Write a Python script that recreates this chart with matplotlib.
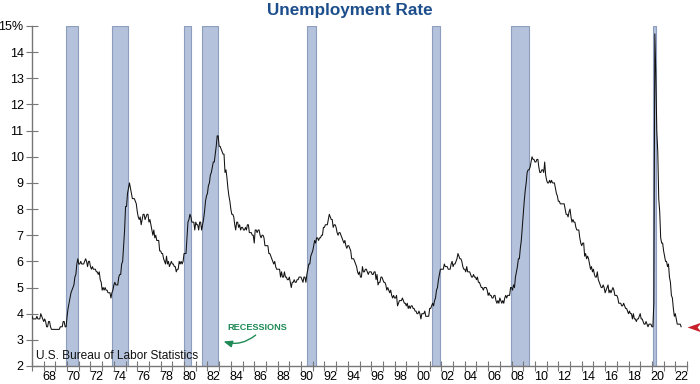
import numpy as np
import matplotlib
matplotlib.use('Agg')
import matplotlib.pyplot as plt
from matplotlib.path import Path

plt.rcParams['font.family'] = ['Liberation Sans', 'DejaVu Sans']

# monthly unemployment rate, %, Jan 1967 - Jul 2022
rate = {
    1967: [3.9, 3.8, 3.8, 3.8, 3.8, 3.9, 3.8, 3.8, 3.8, 4.0, 3.9, 3.8],
    1968: [3.7, 3.8, 3.7, 3.5, 3.5, 3.7, 3.7, 3.5, 3.4, 3.4, 3.4, 3.4],
    1969: [3.4, 3.4, 3.4, 3.4, 3.4, 3.5, 3.5, 3.5, 3.7, 3.7, 3.5, 3.5],
    1970: [3.9, 4.2, 4.4, 4.6, 4.8, 4.9, 5.0, 5.1, 5.4, 5.5, 5.9, 6.1],
    1971: [5.9, 5.9, 6.0, 5.9, 5.9, 5.9, 6.0, 6.1, 6.0, 5.8, 6.0, 6.0],
    1972: [5.8, 5.7, 5.8, 5.7, 5.7, 5.7, 5.6, 5.6, 5.5, 5.6, 5.3, 5.2],
    1973: [4.9, 5.0, 4.9, 5.0, 4.9, 4.9, 4.8, 4.8, 4.8, 4.6, 4.8, 4.9],
    1974: [5.1, 5.2, 5.1, 5.1, 5.1, 5.4, 5.5, 5.5, 5.9, 6.0, 6.6, 7.2],
    1975: [8.1, 8.1, 8.6, 8.8, 9.0, 8.8, 8.6, 8.4, 8.4, 8.4, 8.3, 8.2],
    1976: [7.9, 7.7, 7.6, 7.7, 7.4, 7.6, 7.8, 7.8, 7.6, 7.7, 7.8, 7.8],
    1977: [7.5, 7.6, 7.4, 7.2, 7.0, 7.2, 6.9, 7.0, 6.8, 6.8, 6.8, 6.4],
    1978: [6.4, 6.3, 6.3, 6.1, 6.0, 5.9, 6.2, 5.9, 6.0, 5.8, 5.9, 6.0],
    1979: [5.9, 5.9, 5.8, 5.8, 5.6, 5.7, 5.7, 6.0, 5.9, 6.0, 5.9, 6.0],
    1980: [6.3, 6.3, 6.3, 6.9, 7.5, 7.6, 7.8, 7.7, 7.5, 7.5, 7.5, 7.2],
    1981: [7.5, 7.4, 7.4, 7.2, 7.5, 7.5, 7.2, 7.4, 7.6, 7.9, 8.3, 8.5],
    1982: [8.6, 8.9, 9.0, 9.3, 9.4, 9.6, 9.8, 9.8, 10.1, 10.4, 10.8, 10.8],
    1983: [10.4, 10.4, 10.3, 10.2, 10.1, 10.1, 9.4, 9.5, 9.2, 8.8, 8.5, 8.3],
    1984: [8.0, 7.8, 7.8, 7.7, 7.4, 7.2, 7.5, 7.5, 7.3, 7.4, 7.2, 7.3],
    1985: [7.3, 7.2, 7.2, 7.3, 7.2, 7.4, 7.4, 7.1, 7.1, 7.1, 7.0, 7.0],
    1986: [6.7, 7.2, 7.2, 7.1, 7.2, 7.2, 7.0, 6.9, 7.0, 7.0, 6.9, 6.6],
    1987: [6.6, 6.6, 6.6, 6.3, 6.3, 6.2, 6.1, 6.0, 5.9, 6.0, 5.8, 5.7],
    1988: [5.7, 5.7, 5.7, 5.4, 5.6, 5.4, 5.4, 5.6, 5.4, 5.4, 5.3, 5.3],
    1989: [5.4, 5.2, 5.0, 5.2, 5.2, 5.3, 5.2, 5.2, 5.3, 5.3, 5.4, 5.4],
    1990: [5.4, 5.3, 5.2, 5.4, 5.4, 5.2, 5.5, 5.7, 5.9, 5.9, 6.2, 6.3],
    1991: [6.4, 6.6, 6.8, 6.7, 6.9, 6.9, 6.8, 6.9, 6.9, 7.0, 7.0, 7.3],
    1992: [7.3, 7.4, 7.4, 7.4, 7.6, 7.8, 7.7, 7.6, 7.6, 7.3, 7.4, 7.4],
    1993: [7.3, 7.1, 7.0, 7.1, 7.1, 7.0, 6.9, 6.8, 6.7, 6.8, 6.6, 6.5],
    1994: [6.6, 6.6, 6.5, 6.4, 6.1, 6.1, 6.1, 6.0, 5.9, 5.8, 5.6, 5.5],
    1995: [5.6, 5.4, 5.4, 5.8, 5.6, 5.6, 5.7, 5.7, 5.6, 5.5, 5.6, 5.6],
    1996: [5.6, 5.5, 5.5, 5.6, 5.6, 5.3, 5.5, 5.1, 5.2, 5.2, 5.4, 5.4],
    1997: [5.3, 5.2, 5.2, 5.1, 4.9, 5.0, 4.9, 4.8, 4.9, 4.7, 4.6, 4.7],
    1998: [4.6, 4.6, 4.7, 4.3, 4.4, 4.5, 4.5, 4.5, 4.6, 4.5, 4.4, 4.4],
    1999: [4.3, 4.4, 4.2, 4.3, 4.2, 4.3, 4.3, 4.2, 4.2, 4.1, 4.1, 4.0],
    2000: [4.0, 4.1, 4.0, 3.8, 4.0, 4.0, 4.0, 4.1, 3.9, 3.9, 3.9, 3.9],
    2001: [4.2, 4.2, 4.3, 4.4, 4.3, 4.5, 4.6, 4.9, 5.0, 5.3, 5.5, 5.7],
    2002: [5.7, 5.7, 5.7, 5.9, 5.8, 5.8, 5.8, 5.7, 5.7, 5.7, 5.9, 6.0],
    2003: [5.8, 5.9, 5.9, 6.0, 6.1, 6.3, 6.2, 6.1, 6.1, 6.0, 5.8, 5.7],
    2004: [5.7, 5.6, 5.8, 5.6, 5.6, 5.6, 5.5, 5.4, 5.4, 5.5, 5.4, 5.4],
    2005: [5.3, 5.4, 5.2, 5.2, 5.1, 5.0, 5.0, 4.9, 5.0, 5.0, 5.0, 4.9],
    2006: [4.7, 4.8, 4.7, 4.7, 4.6, 4.6, 4.7, 4.7, 4.5, 4.4, 4.5, 4.4],
    2007: [4.6, 4.5, 4.4, 4.5, 4.4, 4.6, 4.7, 4.6, 4.7, 4.7, 4.7, 5.0],
    2008: [5.0, 4.9, 5.1, 5.0, 5.4, 5.6, 5.8, 6.1, 6.1, 6.5, 6.8, 7.3],
    2009: [7.8, 8.3, 8.7, 9.0, 9.4, 9.5, 9.5, 9.6, 9.8, 10.0, 9.9, 9.9],
    2010: [9.8, 9.8, 9.9, 9.9, 9.6, 9.4, 9.4, 9.5, 9.5, 9.4, 9.8, 9.3],
    2011: [9.1, 9.0, 9.0, 9.1, 9.0, 9.1, 9.0, 9.0, 9.0, 8.8, 8.6, 8.5],
    2012: [8.3, 8.3, 8.2, 8.2, 8.2, 8.2, 8.2, 8.0, 7.8, 7.8, 7.7, 7.9],
    2013: [8.0, 7.7, 7.5, 7.6, 7.5, 7.5, 7.3, 7.2, 7.2, 7.2, 6.9, 6.7],
    2014: [6.6, 6.7, 6.7, 6.2, 6.3, 6.1, 6.2, 6.1, 5.9, 5.7, 5.8, 5.6],
    2015: [5.7, 5.5, 5.4, 5.4, 5.6, 5.3, 5.2, 5.1, 5.0, 5.0, 5.1, 5.0],
    2016: [4.8, 4.9, 5.0, 5.1, 4.8, 4.9, 4.8, 4.9, 5.0, 4.9, 4.7, 4.7],
    2017: [4.7, 4.6, 4.4, 4.4, 4.4, 4.3, 4.3, 4.4, 4.3, 4.2, 4.2, 4.1],
    2018: [4.0, 4.1, 4.0, 4.0, 3.8, 4.0, 3.8, 3.8, 3.7, 3.8, 3.8, 3.9],
    2019: [4.0, 3.8, 3.8, 3.7, 3.6, 3.6, 3.7, 3.6, 3.5, 3.6, 3.6, 3.6],
    2020: [3.5, 3.5, 4.4, 14.7, 13.2, 11.0, 10.2, 8.4, 7.9, 6.9, 6.7, 6.7],
    2021: [6.4, 6.2, 6.0, 6.0, 5.8, 5.9, 5.4, 5.2, 4.7, 4.6, 4.2, 3.9],
    2022: [4.0, 3.8, 3.6, 3.6, 3.6, 3.6, 3.5],
}

# NBER recessions (start, end) as fractional years
rec_start = [1969 + 11/12, 1973 + 10/12, 1980.0, 1981 + 6/12, 1990 + 6/12, 2001 + 2/12, 2007 + 11/12, 2020 + 1/12]
rec_end = [1970 + 11/12, 1975 + 3/12, 1980 + 7/12, 1982 + 11/12, 1991 + 3/12, 2001 + 11/12, 2009 + 6/12, 2020 + 4/12]

tick_labels = ['68', '70', '72', '74', '76', '78', '80', '82', '84', '86', '88', '90',
               '92', '94', '96', '98', '00', '02', '04', '06', '08', '10', '12', '14',
               '16', '18', '20', '22']
y_labels = ['2', '3', '4', '5', '6', '7', '8', '9', '10', '11', '12', '13', '14', '15%']

t = []
u = []
for yr, vals in rate.items():
    for m, v in enumerate(vals):
        t.append(yr + m / 12)
        u.append(v)

fig = plt.figure(figsize=(7, 3.84), dpi=100)
ax = fig.add_axes([32/700, 18/384, 655/700, 340/384])

for s, e in zip(rec_start, rec_end):
    ax.axvspan(s, e, facecolor='#b4c2dc', edgecolor='#8d9dbd', lw=0.8, zorder=1)

ax.plot(t, u, color='#111111', lw=0.75, zorder=3)

ax.set_xlim(1967, 2023)
ax.set_ylim(2, 15)

for side in ['top', 'right']:
    ax.spines[side].set_visible(False)
for side in ['left', 'bottom']:
    ax.spines[side].set_color('#777777')
    ax.spines[side].set_linewidth(1.0)

ax.set_yticks(range(2, 16))
ax.set_yticklabels(y_labels)
ax.tick_params(axis='y', direction='inout', length=8, width=0.8, color='#777777',
               labelsize=9, pad=2)

ax.set_xticks(np.arange(1968.5, 2023, 2))
ax.set_xticklabels(tick_labels)
ax.set_xticks(np.arange(1967, 2024, 1), minor=True)
ax.tick_params(axis='x', which='major', length=0, labelsize=9, pad=3.5)
ax.tick_params(axis='x', which='minor', direction='inout', length=7, width=0.8,
               color='#777777')

fig.text(0.5, 0.973, 'Unemployment Rate', ha='center', va='center',
         fontsize=12.3, fontweight='bold', color='#1c4e8c')

ax.text(1967.35, 2.38, 'U.S. Bureau of Labor Statistics', fontsize=8.6,
        ha='left', va='center', color='#111111', zorder=4)

ax.text(1986.3, 3.49, 'RECESSIONS', fontsize=6.6, fontweight='bold',
        ha='center', va='center', color='#1f8a55', zorder=4)
ax.annotate('', xy=(1983.15, 2.97), xytext=(1986.3, 3.25),
            arrowprops=dict(arrowstyle='-|>,head_length=0.5,head_width=0.2',
                            color='#1f8a55', lw=1.0,
                            connectionstyle='arc3,rad=-0.3'), zorder=4)

head = Path([(-1, 0), (1, 0.7), (0.45, 0), (1, -0.7), (-1, 0)],
            [Path.MOVETO, Path.LINETO, Path.LINETO, Path.LINETO, Path.CLOSEPOLY])
ax.plot([2023.6], [u[-1]], marker=head, markersize=10, color='#c8202a',
        markeredgewidth=0, clip_on=False, zorder=5)

fig.savefig('out.png', dpi=100)
